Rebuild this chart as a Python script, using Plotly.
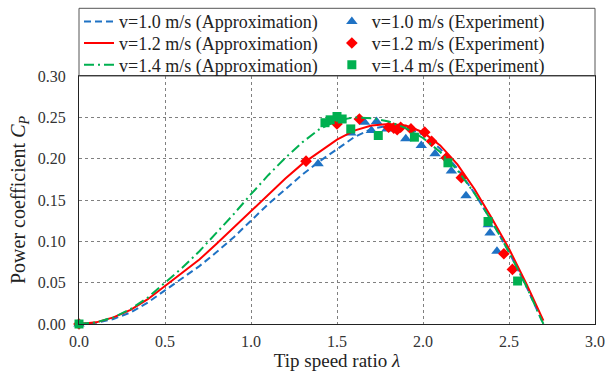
import plotly.graph_objects as go

# ---- Approximation curves ----
lam_curve = [0.0, 0.1, 0.2, 0.3, 0.4, 0.5, 0.6, 0.7, 0.8, 0.9, 1.0, 1.1, 1.2, 1.3, 1.4,
             1.5, 1.6, 1.7, 1.8, 1.9, 2.0, 2.1, 2.2, 2.3, 2.4, 2.5, 2.6, 2.7]
cp_approx_10 = [0.0, 0.0015, 0.006, 0.014, 0.026, 0.041, 0.055, 0.070, 0.087, 0.105, 0.125,
                0.145, 0.163, 0.181, 0.197, 0.212, 0.226, 0.236, 0.240, 0.238, 0.229,
                0.212, 0.188, 0.158, 0.124, 0.087, 0.046, 0.0]
cp_approx_12 = [0.0, 0.002, 0.008, 0.017, 0.030, 0.046, 0.061, 0.078, 0.097, 0.117, 0.137,
                0.157, 0.176, 0.194, 0.209, 0.223, 0.234, 0.240, 0.242, 0.240, 0.232,
                0.216, 0.193, 0.163, 0.128, 0.091, 0.049, 0.004]
cp_approx_14 = [0.0, 0.002, 0.008, 0.018, 0.032, 0.050, 0.068, 0.088, 0.110, 0.133, 0.157,
                0.180, 0.201, 0.220, 0.236, 0.246, 0.250, 0.249, 0.245, 0.237, 0.225,
                0.208, 0.186, 0.158, 0.124, 0.087, 0.046, 0.0]

# ---- Experimental points ----
lam_exp_10 = [0.0, 1.39, 1.58, 1.66, 1.70, 1.73, 1.79, 1.90, 1.99, 2.07, 2.165, 2.25, 2.38, 2.39, 2.43]
cp_exp_10 = [0.0, 0.194, 0.231, 0.244, 0.234, 0.245, 0.236, 0.224, 0.216, 0.206, 0.185, 0.155, 0.120, 0.110, 0.088]

lam_exp_12 = [0.0, 1.32, 1.50, 1.63, 1.80, 1.83, 1.85, 1.87, 1.93, 2.01, 2.05, 2.136, 2.223, 2.47, 2.52]
cp_exp_12 = [0.0, 0.197, 0.242, 0.248, 0.238, 0.237, 0.235, 0.238, 0.236, 0.232, 0.221, 0.201, 0.177, 0.085, 0.066]

lam_exp_14 = [0.0, 1.43, 1.46, 1.50, 1.53, 1.58, 1.74, 1.95, 2.145, 2.378, 2.55]
cp_exp_14 = [0.0, 0.2435, 0.247, 0.251, 0.248, 0.236, 0.228, 0.226, 0.195, 0.124, 0.052]

x_ticks = [0.0, 0.5, 1.0, 1.5, 2.0, 2.5, 3.0]
y_ticks = [0.00, 0.05, 0.10, 0.15, 0.20, 0.25, 0.30]

BLUE = "#1F72C4"
RED = "#FF0000"
GREEN = "#00B050"
FONT = "Liberation Serif"

T, B, L, R = 76, 47, 79, 10
W, H = 605, 371
plot_h = H - T - B
row_px = [21.7, 43.3, 65.0]          # legend row centres (pixels from top)


def leg_y(px):
    return 1 + (T - px) / plot_h


fig = go.Figure()
fig.add_trace(go.Scatter(x=lam_curve, y=cp_approx_10, mode="lines",
                         line=dict(color=BLUE, width=2, dash="7px,4px"),
                         name="v=1.0 m/s (Approximation)", legend="legend"))
fig.add_trace(go.Scatter(x=lam_exp_10, y=cp_exp_10, mode="markers",
                         marker=dict(symbol="triangle-up", size=10, color=BLUE),
                         name="v=1.0 m/s (Experiment)", cliponaxis=False, legend="legend"))
fig.add_trace(go.Scatter(x=lam_curve, y=cp_approx_12, mode="lines",
                         line=dict(color=RED, width=2),
                         name="v=1.2 m/s (Approximation)", legend="legend2"))
fig.add_trace(go.Scatter(x=lam_exp_12, y=cp_exp_12, mode="markers",
                         marker=dict(symbol="diamond", size=9, color=RED),
                         name="v=1.2 m/s (Experiment)", cliponaxis=False, legend="legend2"))
fig.add_trace(go.Scatter(x=lam_curve, y=cp_approx_14, mode="lines",
                         line=dict(color=GREEN, width=2, dash="10px,4px,2px,4px"),
                         name="v=1.4 m/s (Approximation)", legend="legend3"))
fig.add_trace(go.Scatter(x=lam_exp_14, y=cp_exp_14, mode="markers",
                         marker=dict(symbol="square", size=9, color=GREEN),
                         name="v=1.4 m/s (Experiment)", cliponaxis=False, legend="legend3"))

leg_common = dict(orientation="h", x=0.0, xanchor="left", yanchor="middle",
                  entrywidthmode="fraction", entrywidth=0.49,
                  font=dict(family=FONT, size=18, color="#222222"),
                  bgcolor="rgba(0,0,0,0)", borderwidth=0, traceorder="normal")

fig.update_layout(
    width=W, height=H,
    margin=dict(l=L, r=R, t=T, b=B, autoexpand=False),
    paper_bgcolor="white", plot_bgcolor="white",
    font=dict(family=FONT, size=16, color="#333333"),
    showlegend=True,
    legend=dict(leg_common, y=leg_y(row_px[0])),
    legend2=dict(leg_common, y=leg_y(row_px[1])),
    legend3=dict(leg_common, y=leg_y(row_px[2])),
    shapes=[dict(type="rect", xref="paper", yref="paper", x0=0, x1=1, y0=1,
                 y1=leg_y(8.3), line=dict(color="#555555", width=1))],
)
fig.update_xaxes(range=[0, 3.0], tickvals=x_ticks, ticktext=[f"{v:.1f}" for v in x_ticks],
                 showgrid=True, gridcolor="#808080", griddash="3px,3px", gridwidth=1,
                 showline=True, linecolor="#222222", linewidth=1, mirror=True,
                 zeroline=False, ticks="", tickfont=dict(size=16), ticklabelstandoff=3,
                 ticklabeloverflow="allow",
                 title=dict(text="Tip speed ratio <i>λ</i>", font=dict(size=19, color="#222222"), standoff=6))
fig.update_yaxes(range=[0, 0.30], tickvals=y_ticks, ticktext=[f"{v:.2f}" for v in y_ticks],
                 showgrid=True, gridcolor="#808080", griddash="3px,3px", gridwidth=1,
                 showline=True, linecolor="#222222", linewidth=1, mirror=True,
                 zeroline=False, ticks="", tickfont=dict(size=16), ticklabelstandoff=9,
                 title=dict(text="Power coefficient <i>C</i><sub><i>P</i></sub>",
                            font=dict(size=20, color="#222222"), standoff=6))

fig.write_html("out.html",
               config={"displayModeBar": False},
               post_script="document.body.style.margin='0';document.body.style.padding='0';"
                           "document.documentElement.style.overflow='hidden';")
